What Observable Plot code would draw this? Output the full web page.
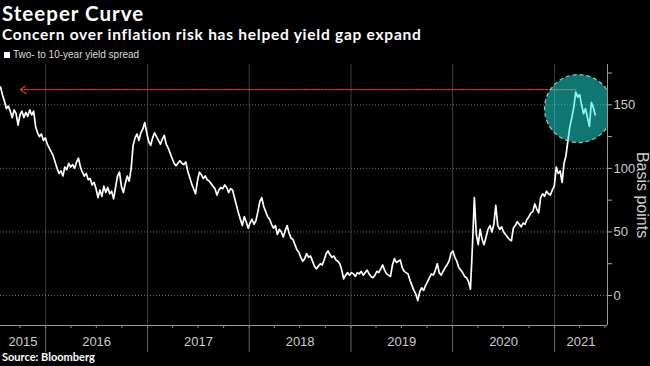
<!DOCTYPE html>
<html><head><meta charset="utf-8">
<script src="https://cdn.jsdelivr.net/npm/d3@7"></script>
<script src="https://cdn.jsdelivr.net/npm/@observablehq/plot@0.6"></script>
<style>
body{margin:0;background:#000;width:650px;height:366px;overflow:hidden;position:relative;font-family:Lato,"Open Sans",sans-serif;color:#fff}
#title{position:absolute;left:2px;top:0.5px;font-size:20.5px;line-height:normal;font-weight:700;letter-spacing:1px;white-space:nowrap}
#sub{position:absolute;left:2px;top:25px;font-size:15.5px;line-height:normal;font-weight:700;letter-spacing:0.75px;white-space:nowrap}
#legend{position:absolute;left:4px;top:49px;font-size:10px;line-height:12px;color:#ddd;font-family:"Liberation Sans",sans-serif;white-space:nowrap}
#legend .sw{display:inline-block;width:6px;height:6px;background:#fff;margin-right:3px;vertical-align:0px}
#chart{position:absolute;left:0;top:62px}
#src{position:absolute;left:2px;top:350px;font-size:11px;line-height:14px;font-weight:700;white-space:nowrap}
</style></head><body>
<div id="title">Steeper Curve</div>
<div id="sub">Concern over inflation risk has helped yield gap expand</div>
<div id="legend"><span class="sw"></span>Two- to 10-year yield spread</div>
<div id="chart"></div>
<div id="src">Source: Bloomberg</div>
<script>
// weekly observations starting 2015-07-23 (basis points)
const firstWeek = "2015-07-23";
const spread = [
164,158,153,147,149,145,140,146,143,134,142,145,140,144,141,146,142,145,133,
128,125,127,122,124,119,116,113,110,105,100,96,98,94,
101,99,104,101,103,100,105,108,101,97,94,96,91,92,87,89,84,77,
83,78,86,81,85,80,82,76,85,94,97,86,81,88,94,90,100,118,
124,127,122,128,131,136,128,121,118,124,128,125,122,119,123,126,119,
116,112,108,104,102,104,106,104,103,105,98,93,88,84,80,90,97,95,92,94,91,90,88,86,84,79,83,85,84,87,85,81,84,83,77,71,65,
60,55,62,58,53,57,60,56,59,66,74,77,70,66,62,60,56,53,55,48,52,50,46,51,55,49,45,44,40,36,34,30,
27,29,33,30,31,27,23,21,23,25,24,28,33,35,32,30,31,28,27,25,20,13,16,18,16,18,17,15,18,17,19,
16,18,20,17,15,14,16,19,18,21,24,20,17,16,15,24,29,26,27,28,22,19,18,17,12,8,4,1,-4,
3,6,4,8,11,14,17,16,20,25,18,16,19,22,24,27,33,35,30,27,22,20,18,15,14,11,
5,38,77,48,40,52,44,40,46,52,55,50,56,71,55,52,54,50,48,46,44,43,53,55,58,56,54,57,56,60,62,65,66,72,68,65,77,80,78,82,80,79,83,86,101,96,98,89,104,110,122,133,140,148,160,156,158,150,143,147,140,133,152,148,142
];
const years = [2015,2016,2017,2018,2019,2020,2021];
const yTicks = [0,50,100,150];
const yMinor = [25,75,125,175];
const xStart = "2015-07-23", xEnd = "2021-07-10";
const yDomain = [-23.6, 181.7];
const arrowStart = "2021-03-18", arrowEnd = "2015-10-02", arrowLevel = 162;
const highlightDate = "2021-03-28", highlightLevel = 147;

const t0 = new Date(firstWeek + "T00:00:00Z");
const data = spread.map((v, i) => ({date: new Date(t0.getTime() + i * 7 * 864e5), value: v}));
const d0 = new Date(xStart + "T00:00:00Z"), d1 = new Date(xEnd + "T00:00:00Z");
const yearStarts = years.slice(1).map(y => new Date(Date.UTC(y, 0, 1)));
const quarters = [];
for (const y of years) for (const m of [0,3,6,9]) { const d = new Date(Date.UTC(y, m, 1)); if (d > d0 && d < d1) quarters.push(d); }
const yearLabels = years.map(y => {
  const a = Math.max(d0, Date.UTC(y,0,1)), b = Math.min(d1, Date.UTC(y+1,0,1));
  return {year: String(y), mid: new Date((a + b) / 2)};
});
const arrowData = [{x1: new Date(arrowStart), x2: new Date(arrowEnd), y: arrowLevel}];
const circle = [{date: new Date(highlightDate), value: highlightLevel}];
const font = '"Liberation Sans Narrow","Liberation Sans",sans-serif';

const chart = Plot.plot({
  width: 650, height: 290,
  marginTop: 2, marginBottom: 27, marginLeft: 0, marginRight: 43,
  style: {background: "#000", color: "#ccc", fontFamily: font, fontSize: "13px"},
  x: {type: "utc", domain: [d0, d1]},
  y: {domain: yDomain},
  marks: [
    Plot.gridX(yearStarts, {stroke: "#3c3c3c", strokeOpacity: 1}),
    Plot.gridY(yTicks, {stroke: "#8a8a8a", strokeOpacity: 0.8, strokeDasharray: "1,2"}),
    Plot.ruleY([yDomain[0]], {stroke: "#9a9a9a"}),
    Plot.ruleX([d1], {stroke: "#9a9a9a"}),
    Plot.axisX(yearStarts, {tickSize: 28, tickFormat: () => "", stroke: "#666"}),
    Plot.axisX(quarters, {tickSize: 3, tickFormat: () => "", stroke: "#888"}),
    Plot.text(yearLabels, {x: "mid", text: "year", frameAnchor: "bottom", dy: 20, fill: "#ccc", fontSize: 13}),
    Plot.axisY(yTicks, {anchor: "right", tickSize: 4, tickPadding: 2, fontSize: 13, stroke: "#aaa", fill: "#ccc"}),
    Plot.axisY(yMinor, {anchor: "right", tickSize: 4, tickFormat: () => "", stroke: "#aaa"}),
    Plot.text(["Basis points"], {frameAnchor: "right", textAnchor: "middle", dx: 35, rotate: 90, fontSize: 16, fill: "#ccc"}),
    Plot.line(data, {x: "date", y: "value", stroke: "#fff", strokeWidth: 1.7}),
    Plot.arrow(arrowData, {x1: "x1", x2: "x2", y1: "y", y2: "y", stroke: "#e0302c", strokeWidth: 1.3, strokeDasharray: "2,1.5", headLength: 8, headAngle: 70}),
    Plot.dot(circle, {x: "date", y: "value", r: 34, fill: "#20ece4", fillOpacity: 0.5, stroke: "#7ad8d4", strokeWidth: 1.2, strokeDasharray: "4,3", clip: true})
  ]
});
document.getElementById("chart").appendChild(chart);
</script>
</body></html>
